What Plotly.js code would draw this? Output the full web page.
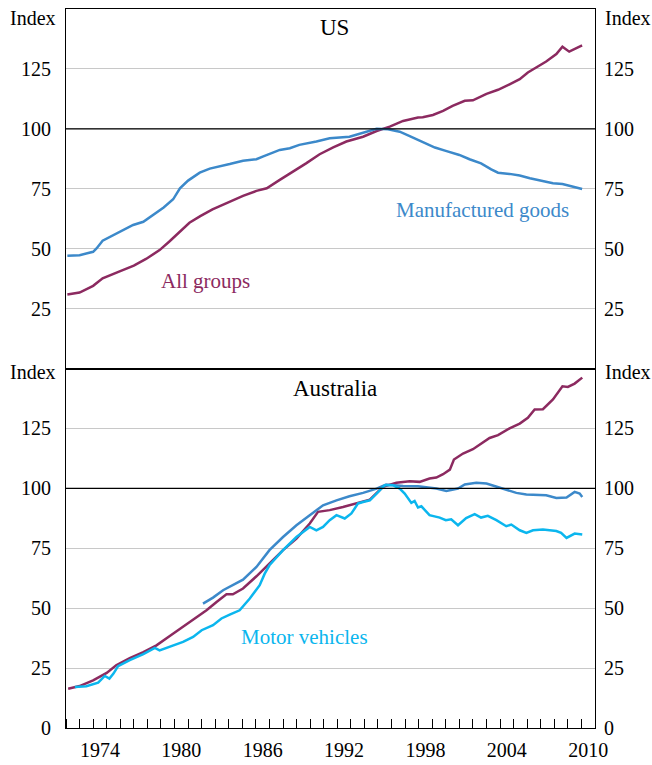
<!DOCTYPE html>
<html><head><meta charset="utf-8">
<script src="https://cdn.plot.ly/plotly-3.0.1.min.js"></script>
<style>html,body{margin:0;padding:0;background:#fff}#chart{width:652px;height:765px}</style>
</head><body><div id="chart"></div><script>
// ---- US ----
var usAllX = [1972.1,1973.0,1974.0,1974.7,1976.0,1977.0,1977.9,1978.9,1979.6,1980.4,1981.1,1981.9,1982.8,1983.8,1984.8,1985.05,1986.04,1986.8,1987.76,1988.74,1989.7,1990.7,1991.7,1992.67,1993.9,1994.9,1995.87,1996.85,1997.34,1997.95,1998.3,1999.05,1999.8,2000.5,2001.4,2002.0,2003.0,2003.85,2004.7,2005.45,2006.05,2006.7,2007.4,2008.15,2008.6,2009.1,2009.6,2010.05];
var usAllY = [30.9,31.7,34.5,37.6,40.6,42.9,45.7,49.4,52.9,57.1,60.8,63.6,66.4,68.9,71.4,72.0,74.1,75.2,78.7,82.1,85.6,89.4,92.3,94.7,96.7,99.1,100.9,103.3,104.0,104.7,104.8,105.8,107.5,109.6,111.7,111.9,114.6,116.3,118.6,120.7,123.5,125.7,128.1,131.2,134.3,132.2,133.4,134.8];
var usManX = [1972.1,1973.0,1974.0,1974.25,1974.7,1975.35,1975.97,1976.95,1977.7,1978.4,1979.2,1979.9,1980.4,1981.0,1981.86,1982.6,1983.6,1984.07,1985.05,1986.04,1986.5,1987.76,1988.5,1989.2,1990.46,1991.44,1992.9,1993.9,1994.9,1995.74,1996.6,1997.34,1997.95,1998.3,1999.2,2000.0,2001.0,2001.75,2002.6,2003.35,2003.85,2004.7,2005.45,2006.2,2007.2,2007.9,2008.6,2009.4,2010.05];
var usManY = [47.0,47.3,48.7,50.1,53.3,55.3,56.9,59.9,61.2,64.0,67.2,70.6,75.2,78.4,81.7,83.4,84.5,85.3,86.7,87.3,88.4,91.2,91.9,93.3,94.7,96.1,96.7,98.4,100.0,99.8,98.8,97.0,95.4,94.7,92.2,90.8,89.1,87.3,85.6,83.1,81.7,81.2,80.5,79.4,78.2,77.3,77.0,75.9,74.9];
// ---- Australia ----
var auAllX = [1972.16,1973.0,1974.0,1975.0,1975.7,1976.7,1977.7,1978.67,1979.65,1980.63,1981.6,1982.36,1983.1,1983.83,1984.3,1984.8,1985.05,1986.04,1987.0,1988.0,1988.99,1989.97,1990.58,1991.44,1992.42,1993.4,1994.4,1995.37,1996.36,1997.34,1998.07,1998.8,1999.3,1999.8,2000.3,2000.6,2001.27,2002.0,2002.74,2003.23,2003.85,2004.7,2005.45,2006.05,2006.55,2007.16,2007.9,2008.6,2009.0,2009.5,2010.06];
var auAllY = [16.4,17.5,19.9,23.0,26.2,29.2,31.7,34.5,38.4,42.2,46.3,49.1,52.6,55.8,55.8,57.5,58.2,63.3,68.6,74.2,79.0,85.3,90.2,90.9,92.2,93.7,95.3,100.6,102.3,103.0,102.7,104.1,104.5,105.9,107.8,112.0,114.5,116.3,119.0,121.0,122.2,125.0,127.0,129.4,132.9,133.0,137.1,142.6,142.3,143.7,146.2];
var auManX = [1982.1,1982.84,1983.58,1984.07,1984.8,1985.05,1986.04,1987.0,1988.0,1988.99,1989.97,1990.95,1991.94,1992.9,1993.9,1994.9,1995.6,1996.85,1997.95,1998.3,1999.3,2000.04,2000.9,2001.4,2002.25,2003.0,2003.73,2004.46,2005.2,2005.94,2006.67,2007.4,2008.15,2008.9,2009.5,2009.87,2010.06];
var auManY = [51.9,54.4,57.5,58.9,60.9,61.9,67.2,74.2,79.7,84.6,88.8,92.9,95.0,96.7,98.1,99.9,101.6,101.0,100.9,100.6,99.9,98.9,99.9,101.6,102.3,102.0,100.6,99.2,98.1,97.4,97.1,97.1,96.0,96.2,98.5,97.8,96.4];
var auMotX = [1972.65,1973.5,1974.37,1974.86,1975.2,1975.5,1975.84,1976.7,1977.7,1978.55,1978.9,1979.9,1980.63,1981.37,1982.0,1982.84,1983.46,1984.07,1984.8,1985.55,1986.28,1986.65,1987.0,1988.0,1988.99,1989.97,1990.46,1990.95,1991.44,1991.94,1992.55,1993.04,1993.53,1993.9,1994.4,1994.9,1995.5,1996.1,1996.6,1996.97,1997.46,1997.7,1997.95,1998.2,1998.8,1999.55,2000.0,2000.4,2000.9,2001.5,2002.13,2002.6,2003.1,2003.73,2004.46,2004.83,2005.45,2005.94,2006.43,2007.16,2008.15,2008.5,2008.9,2009.5,2010.06];
var auMotY = [17.1,17.4,18.9,21.7,20.6,22.7,25.8,28.3,30.8,33.4,32.4,34.5,35.9,38.0,40.8,42.9,45.7,47.3,49.1,54.0,59.6,64.4,67.9,74.2,79.7,83.9,82.5,83.9,86.7,88.8,87.4,89.5,93.7,94.3,95.0,97.8,101.3,101.3,99.9,97.8,93.9,94.7,92.0,92.5,88.8,87.8,86.7,87.1,84.6,87.6,89.2,87.8,88.5,86.7,84.2,84.9,82.5,81.4,82.5,82.8,82.2,81.4,79.3,81.1,80.7];
// ---- axis ticks ----
var yearLabels = ['1974','1980','1986','1992','1998','2004','2010'];
var yearLabelPos = [1974.5,1980.5,1986.5,1992.5,1998.5,2004.5,2010.5];
var yTicksBottom = [0,25,50,75,100,125];
var yTicksTop = [25,50,75,100,125];

var PURPLE = '#8C2A60', BLUE = '#3C89CA', CYAN = '#0BB6EE';
var FONT = 'Liberation Serif, Tinos, Times New Roman, Times, DejaVu Serif, serif';
var LW = 2.5;

var traces = [
  {x: usAllX, y: usAllY, xaxis: 'x2', yaxis: 'y2', mode: 'lines', line: {color: PURPLE, width: LW}},
  {x: usManX, y: usManY, xaxis: 'x2', yaxis: 'y2', mode: 'lines', line: {color: BLUE, width: LW}},
  {x: auAllX, y: auAllY, xaxis: 'x', yaxis: 'y', mode: 'lines', line: {color: PURPLE, width: LW}},
  {x: auManX, y: auManY, xaxis: 'x', yaxis: 'y', mode: 'lines', line: {color: BLUE, width: LW}},
  {x: auMotX, y: auMotY, xaxis: 'x', yaxis: 'y', mode: 'lines', line: {color: CYAN, width: LW}},
  {x: [], y: [], xaxis: 'x', yaxis: 'y3', mode: 'lines', hoverinfo: 'skip'},
  {x: [], y: [], xaxis: 'x2', yaxis: 'y4', mode: 'lines', hoverinfo: 'skip'}
];

function tf() { return {family: FONT, size: 20, color: '#000'}; }
function yBase(extra) {
  var o = {range: [0, 150], autorange: false, tickmode: 'array', ticks: '', showgrid: true,
    gridcolor: '#c8c8c8', gridwidth: 1, zeroline: false, showline: true, mirror: true,
    linecolor: '#000', linewidth: 1, tickfont: tf(), ticklabelstandoff: 10, fixedrange: true};
  for (var k in extra) o[k] = extra[k];
  return o;
}
function yRight(extra) {
  var o = {range: [0, 150], autorange: false, tickmode: 'array', ticks: '', showgrid: false,
    zeroline: false, showline: false, side: 'right', tickfont: tf(), ticklabelstandoff: 8, fixedrange: true};
  for (var k in extra) o[k] = extra[k];
  return o;
}

var layout = {
  width: 652, height: 765,
  margin: {l: 66, r: 56.7, t: 8.7, b: 37.3},
  paper_bgcolor: '#fff', plot_bgcolor: '#fff',
  showlegend: false,
  font: {family: FONT, color: '#000'},
  xaxis: {domain: [0, 1], anchor: 'y', range: [1972, 2011], autorange: false,
    tickmode: 'array', tickvals: yearLabelPos, ticktext: yearLabels, ticks: '',
    showgrid: false, zeroline: false, showline: true, mirror: true, linecolor: '#000', linewidth: 1,
    tickfont: tf(), ticklabelstandoff: 4,
    minor: {tickmode: 'linear', tick0: 1973, dtick: 1, ticks: 'inside', ticklen: 9, tickcolor: '#000', tickwidth: 1, showgrid: false}},
  xaxis2: {domain: [0, 1], anchor: 'y2', range: [1972, 2011], autorange: false,
    showticklabels: false, ticks: '', showgrid: false, zeroline: false,
    showline: true, mirror: true, linecolor: '#000', linewidth: 1},
  yaxis: yBase({domain: [0, 0.5], anchor: 'x', tickvals: yTicksBottom}),
  yaxis2: yBase({domain: [0.5, 1], anchor: 'x2', tickvals: yTicksTop}),
  yaxis3: yRight({overlaying: 'y', anchor: 'x', tickvals: yTicksBottom}),
  yaxis4: yRight({overlaying: 'y2', anchor: 'x2', tickvals: yTicksTop}),
  shapes: [
    {type: 'line', xref: 'x', yref: 'y', x0: 1972, x1: 2011, y0: 100, y1: 100, line: {color: '#000', width: 1.2}, layer: 'above'},
    {type: 'line', xref: 'x2', yref: 'y2', x0: 1972, x1: 2011, y0: 100, y1: 100, line: {color: '#000', width: 1.2}, layer: 'above'}
  ],
  annotations: [
    {text: 'US', xref: 'paper', yref: 'paper', x: 0.5077, y: 0.9738, xanchor: 'center', yanchor: 'middle', showarrow: false, font: {family: FONT, size: 23, color: '#000'}},
    {text: 'Australia', xref: 'paper', yref: 'paper', x: 0.5077, y: 0.4725, xanchor: 'center', yanchor: 'middle', showarrow: false, font: {family: FONT, size: 23, color: '#000'}},
    {text: 'Index', xref: 'paper', yref: 'paper', x: -0.0151, y: 0.987, xanchor: 'right', yanchor: 'middle', showarrow: false, font: tf()},
    {text: 'Index', xref: 'paper', yref: 'paper', x: -0.0151, y: 0.4947, xanchor: 'right', yanchor: 'middle', showarrow: false, font: tf()},
    {text: 'Index', xref: 'paper', yref: 'paper', x: 1.0145, y: 0.987, xanchor: 'left', yanchor: 'middle', showarrow: false, font: tf()},
    {text: 'Index', xref: 'paper', yref: 'paper', x: 1.0145, y: 0.4947, xanchor: 'left', yanchor: 'middle', showarrow: false, font: tf()},
    {text: 'Manufactured goods', xref: 'x2', yref: 'y2', x: 2002.72, y: 66.1, xanchor: 'center', yanchor: 'middle', showarrow: false, font: {family: FONT, size: 21, color: BLUE}},
    {text: 'All groups', xref: 'x2', yref: 'y2', x: 1982.29, y: 36.5, xanchor: 'center', yanchor: 'middle', showarrow: false, font: {family: FONT, size: 21, color: PURPLE}},
    {text: 'Motor vehicles', xref: 'x', yref: 'y', x: 1989.6, y: 37.9, xanchor: 'center', yanchor: 'middle', showarrow: false, font: {family: FONT, size: 21, color: CYAN}}
  ]
};

Plotly.newPlot('chart', traces, layout, {staticPlot: true, displayModeBar: false});
</script></body></html>
